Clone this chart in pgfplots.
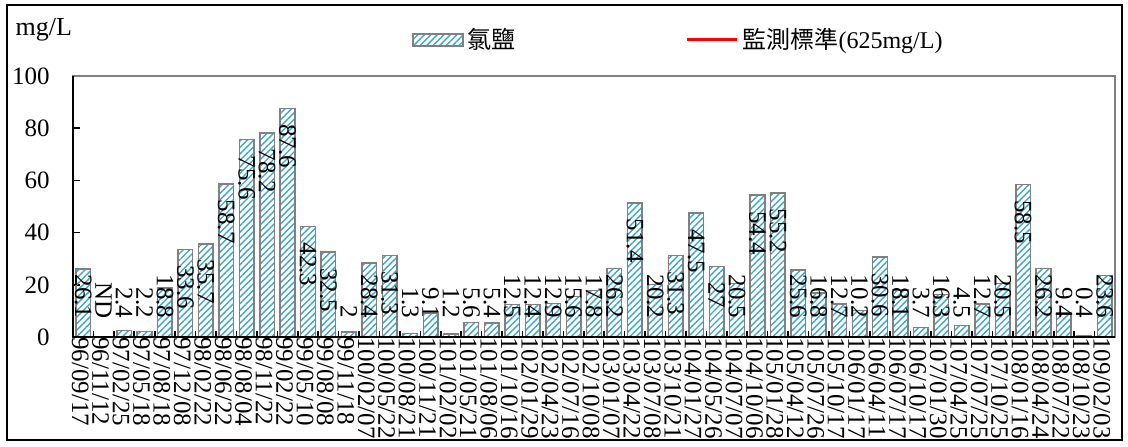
\documentclass[border=0pt]{standalone}
\usepackage{pgfplots}
\usepackage{pgfplotstable}
\pgfplotsset{compat=1.18}
\usetikzlibrary{patterns.meta}
\usepackage{fontspec}
\setmainfont{Liberation Serif}
\newfontfamily\cjk{Noto Sans CJK TC}
\definecolor{barcyan}{RGB}{60,168,196}
\definecolor{bargray}{RGB}{128,128,128}
\pgfdeclareplotmark{nothing}{}

\pgfplotstableread{
x date val
0 96/09/17 26.1
1 96/11/12 0
2 97/02/25 2.4
3 97/05/18 2.2
4 97/08/18 18.8
5 97/12/08 33.6
6 98/02/22 35.7
7 98/06/22 58.7
8 98/08/04 75.6
9 98/11/22 78.2
10 99/02/22 87.6
11 99/05/10 42.3
12 99/08/08 32.5
13 99/11/18 2
14 100/02/07 28.4
15 100/05/22 31.3
16 100/08/21 1.3
17 100/11/21 9.1
18 101/02/02 1.2
19 101/05/21 5.6
20 101/08/06 5.4
21 101/10/16 12.5
22 102/01/29 12.4
23 102/04/23 12.9
24 102/07/16 15.6
25 102/10/08 17.8
26 103/01/07 26.2
27 103/04/22 51.4
28 103/07/08 20.2
29 103/10/21 31.3
30 104/01/27 47.5
31 104/05/26 27
32 104/07/07 20.5
33 104/10/06 54.4
34 105/01/28 55.2
35 105/04/12 25.6
36 105/07/26 16.8
37 105/10/17 12.7
38 106/01/17 10.2
39 106/04/11 30.6
40 106/07/17 18.1
41 106/10/17 3.7
42 107/01/30 16.3
43 107/04/25 4.5
44 107/07/25 12.7
45 107/10/25 20.5
46 108/01/16 58.5
47 108/04/24 26.2
48 108/07/22 9.4
49 108/10/23 0.4
50 109/02/03 23.6
}\data

% labels whose text starts just under the top of the bar
\pgfplotstableread{
x ly lab
5 27.6 33.6
6 29.7 35.7
7 52.7 58.7
8 69.6 75.6
9 72.2 78.2
10 81.6 87.6
11 36.3 42.3
12 26.5 32.5
15 25.3 31.3
27 45.4 51.4
29 25.3 31.3
30 41.5 47.5
31 21 27
33 48.4 54.4
34 49.2 55.2
39 24.6 30.6
46 52.5 58.5
}\labW

% labels whose text ends just above the baseline
\pgfplotstableread{
x ly lab
0 7 26.1
1 7 ND
2 7 2.4
3 7 2.2
4 7 18.8
13 7 2
14 7 28.4
16 7 1.3
17 7 9.1
18 7 1.2
19 7 5.6
20 7 5.4
21 7 12.5
22 7 12.4
23 7 12.9
24 7 15.6
25 7 17.8
26 7 26.2
28 7 20.2
32 7 20.5
35 7 25.6
36 7 16.8
37 7 12.7
38 7 10.2
40 7 18.1
41 7 3.7
42 7 16.3
43 7 4.5
44 7 12.7
45 7 20.5
47 7 26.2
48 7 9.4
49 7 0.4
50 7 23.6
}\labE

\begin{document}
\begin{tikzpicture}
\useasboundingbox (-36.5pt,-54.5pt) rectangle (527.5pt,168.5pt);
\draw[black, line width=1pt] (-33pt,-51.5pt) rectangle (524.5pt,166pt);
\begin{axis}[
  at={(0,0)}, anchor=south west,
  scale only axis, width=521pt, height=130.5pt,
  xmin=-0.5, xmax=50.5, ymin=0, ymax=100,
  ytick={0,20,...,100},
  xtick={0,...,50},
  xticklabels from table={\data}{date},
  minor x tick num=1,
  tick align=inside,
  xtick pos=bottom, ytick pos=left,
  major x tick style={draw=none},
  minor x tick style={black, line width=0.8pt},
  minor tick length=3pt,
  major tick length=3.5pt,
  y tick style={black, line width=0.8pt},
  axis line style={bargray, line width=0.8pt},
  /pgf/number format/assume math mode=true,
  tick label style={font=\fontsize{12.5}{13}\selectfont, black},
  xticklabel style={rotate=-90, anchor=west, inner sep=0pt, yshift=-1.5pt},
  yticklabel style={inner sep=0pt, xshift=-11.5pt},
  ylabel={mg/L},
  ylabel style={rotate=-90, at={(rel axis cs:-0.028,1.176)}, anchor=center, font=\fontsize{13}{14}\selectfont},
  legend columns=2,
  legend style={at={(rel axis cs:0.325,1.138)}, anchor=west, draw=none, fill=none,
    font=\fontsize{12}{13}\selectfont, inner sep=0pt,
    /tikz/every even column/.append style={column sep=83pt}},
  clip=true,
  after end axis/.code={\draw[black, line width=0.9pt] (rel axis cs:0,1) -- (rel axis cs:0,0) -- (rel axis cs:1,0);},
]
\addplot[ybar, bar width=7.3pt, draw=bargray, line width=0.75pt,
  pattern={Lines[angle=45,distance=2.3pt,line width=0.7pt]}, pattern color=barcyan,
  legend image code/.code={\draw[draw=bargray, line width=0.75pt, pattern={Lines[angle=45,distance=2.3pt,line width=0.7pt]}, pattern color=barcyan] (0pt,-3pt) rectangle (25pt,3pt);}]
  table[x=x, y=val] {\data};
\addlegendentry{{\cjk 氯鹽}}
\addplot[red, line width=1.5pt,
  legend image code/.code={\draw[red, line width=1.5pt] (0pt,0pt) -- (25pt,0pt);}]
  coordinates {(-0.5,625) (50.5,625)};
\addlegendentry{{\cjk 監測標準}(625mg/L)}
\addplot[only marks, mark=nothing, forget plot,
  nodes near coords, point meta=explicit symbolic,
  nodes near coords style={rotate=-90, anchor=west, inner sep=0pt, font=\fontsize{12.5}{13}\selectfont, black}]
  table[x=x, y=ly, meta=lab] {\labW};
\addplot[only marks, mark=nothing, forget plot,
  nodes near coords, point meta=explicit symbolic,
  nodes near coords style={rotate=-90, anchor=east, inner sep=0pt, font=\fontsize{12.5}{13}\selectfont, black}]
  table[x=x, y=ly, meta=lab] {\labE};
\end{axis}
\end{tikzpicture}
\end{document}
